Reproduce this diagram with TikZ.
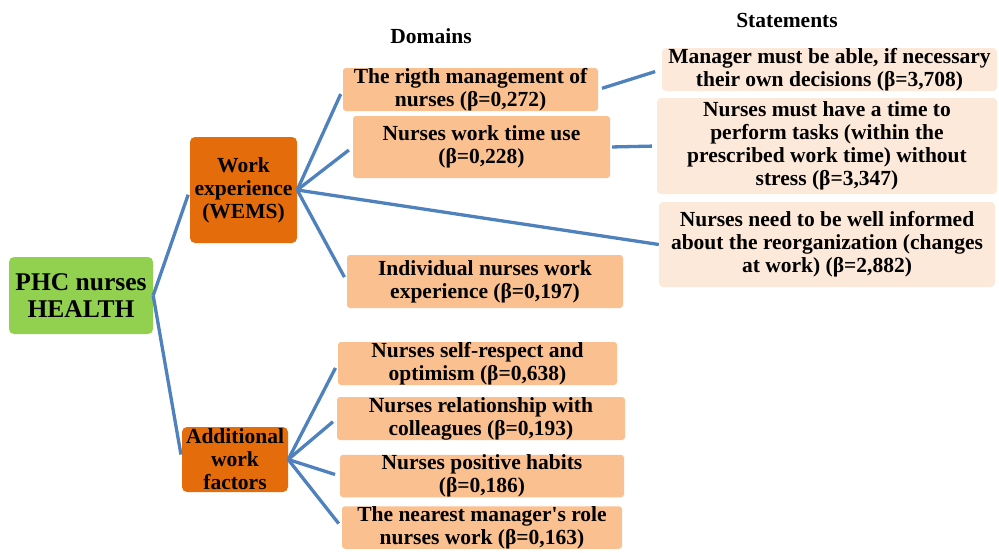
\documentclass[tikz,border=0pt]{standalone}
\usepackage{fontspec}
\setmainfont{Liberation Serif}
\usepackage{tikz}
\usetikzlibrary{positioning}
\definecolor{phcGreen}{RGB}{146,208,80}
\definecolor{phcOrange}{RGB}{228,108,10}
\definecolor{phcPeach}{RGB}{250,192,144}
\definecolor{phcLight}{RGB}{253,233,217}
\definecolor{phcLine}{RGB}{79,129,189}

\begin{document}
\begin{tikzpicture}[x=1pt,y=-1pt,
    box/.style={rounded corners=5pt,inner sep=0pt,align=center,
                font=\fontsize{21.5}{23}\selectfont\bfseries},
    top/.style={box,fill=phcGreen,font=\fontsize{25.5}{27}\selectfont\bfseries},
    fac/.style={box,fill=phcOrange},
    dom/.style={box,fill=phcPeach,rounded corners=3pt},
    stm/.style={box,fill=phcLight,rounded corners=4pt},
    lbl/.style={font=\fontsize{21.5}{23}\selectfont\bfseries},
    link/.style={draw=phcLine,line width=3.3pt,shorten >=5pt}]

    \useasboundingbox (0,0) rectangle (999,552);

    % Headings
    \node[lbl] (domhead) at (431,36) {Domains};
    \node[lbl] (stmhead) at (787,20) {Statements};

    % Root and factors
    \node[top,minimum width=144pt,minimum height=77pt] (phc) at (81,295.5) {PHC nurses\\HEALTH};
    \node[fac,minimum width=107pt,minimum height=106pt] (we) at (243.5,190) {Work\\experience\\(WEMS)};
    \node[fac,minimum width=106pt,minimum height=65pt] (awf) at (235,459.5) {Additional\\work\\factors};

    % Domains
    \node[dom,minimum width=255pt,minimum height=43pt] (d1) at (470.5,89.5) {The rigth management of\\nurses (β=0,272)};
    \node[dom,minimum width=257pt,minimum height=62pt] (d2) at (481.5,147) {Nurses work time use\\(β=0,228)};
    \node[dom,minimum width=276pt,minimum height=53pt] (d3) at (485,281.5) {Individual nurses work\\experience (β=0,197)};
    \node[dom,minimum width=279pt,minimum height=43pt] (d4) at (477.5,363.5) {Nurses self-respect and\\optimism (β=0,638)};
    \node[dom,minimum width=288pt,minimum height=43pt] (d5) at (481,418.5) {Nurses relationship with\\colleagues (β=0,193)};
    \node[dom,minimum width=284pt,minimum height=40pt] (d6) at (482,476) {Nurses positive habits\\(β=0,186)};
    \node[dom,minimum width=280pt,minimum height=41pt] (d7) at (482,527.5) {The nearest manager\textquotesingle s role\\nurses work (β=0,163)};

    % Statements
    \node[stm,minimum width=335pt,minimum height=43pt] (s1) at (829.5,69.5) {Manager must be able, if necessary\\their own decisions (β=3,708)};
    \node[stm,minimum width=340pt,minimum height=96pt] (s2) at (827,146) {Nurses must have a time to\\perform tasks (within the\\prescribed work time) without\\stress (β=3,347)};
    \node[stm,minimum width=336pt,minimum height=85pt] (s3) at (827,244.5) {Nurses need to be well informed\\about the reorganization (changes\\at work) (β=2,882)};

    % Connectors
    \draw[link] (phc.east) -- (we.west);
    \draw[link] (phc.east) -- (awf.west);
    \foreach \d in {d1,d2,d3} {
      \draw[link] (we.east) -- (\d.west);
    }
    \draw[link,shorten >=0pt] (we.east) -- (s3.west);
    \foreach \d in {d4,d5,d6,d7} {
      \draw[link] (awf.east) -- (\d.west);
    }
    \draw[link,shorten <=4pt,shorten >=7pt] (d1.east) -- (s1.west);
    \draw[link,shorten <=2pt] (d2.east) -- (s2.west);
  \end{tikzpicture}
\end{document}
